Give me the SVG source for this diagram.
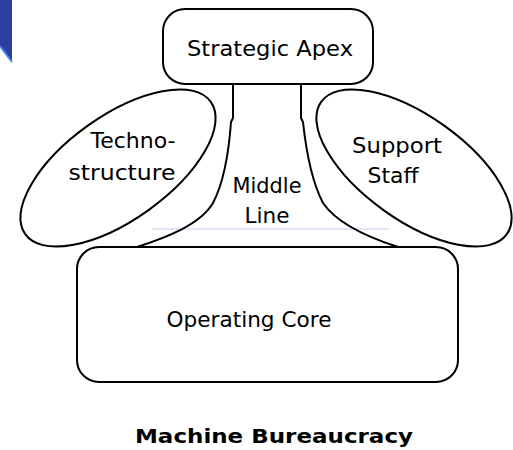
<svg xmlns="http://www.w3.org/2000/svg" width="513" height="450" viewBox="0 0 513 450">
  <style>
    .shape { fill: none; stroke: #000; stroke-width: 2; }
    .label { font-family: "DejaVu Sans", "Liberation Sans", sans-serif; font-size: 21px; fill: #000; }
    .title { font-family: "DejaVu Sans", "Liberation Sans", sans-serif; font-size: 20px; font-weight: bold; fill: #000; }
  </style>
  <rect width="513" height="450" fill="#fff"/>

  <!-- corner tab -->
  <polygon points="0,0 12,0 12,62 0,46" fill="#2b3f9e"/>
  <line x1="0" y1="46" x2="12" y2="62" stroke="#4f7fff" stroke-width="2"/>

  <!-- faint base line of the middle line -->
  <line x1="152" y1="229" x2="389" y2="229" stroke="#c4cbe8" stroke-width="1"/>

  <g id="connectors">
    <path class="shape" d="M233,84 V118 L231,122 C229,150 225,180 213,203 C200,225 165,238 137,247"/>
    <path class="shape" d="M301,84 V118 L303,122 C306,150 311,180 323,203 C338,225 370,238 398,247"/>
  </g>

  <g id="strategic-apex">
    <rect class="shape" x="163" y="9" width="210" height="75" rx="22" ry="22"/>
    <text class="label" x="270" y="56" text-anchor="middle" textLength="166" lengthAdjust="spacingAndGlyphs">Strategic Apex</text>
  </g>

  <g id="technostructure">
    <ellipse class="shape" cx="118" cy="168" rx="114" ry="52" transform="rotate(-35.5 118 168)"/>
    <text class="label" x="133" y="148" text-anchor="middle" textLength="85" lengthAdjust="spacingAndGlyphs">Techno-</text>
    <text class="label" x="122" y="180" text-anchor="middle" textLength="107" lengthAdjust="spacingAndGlyphs">structure</text>
  </g>

  <g id="support-staff">
    <ellipse class="shape" cx="414" cy="168" rx="114" ry="52" transform="rotate(35.5 414 168)"/>
    <text class="label" x="397" y="153" text-anchor="middle" textLength="90" lengthAdjust="spacingAndGlyphs">Support</text>
    <text class="label" x="393" y="183" text-anchor="middle" textLength="51" lengthAdjust="spacingAndGlyphs">Staff</text>
  </g>

  <g id="middle-line">
    <text class="label" x="267" y="193" text-anchor="middle" textLength="69" lengthAdjust="spacingAndGlyphs">Middle</text>
    <text class="label" x="267" y="223" text-anchor="middle" textLength="45" lengthAdjust="spacingAndGlyphs">Line</text>
  </g>

  <g id="operating-core">
    <rect class="shape" x="77" y="247" width="381" height="135" rx="22" ry="22"/>
    <text class="label" x="249" y="327" text-anchor="middle" textLength="165" lengthAdjust="spacingAndGlyphs">Operating Core</text>
  </g>

  <text class="title" x="274" y="443" text-anchor="middle" textLength="278" lengthAdjust="spacingAndGlyphs">Machine Bureaucracy</text>
</svg>
